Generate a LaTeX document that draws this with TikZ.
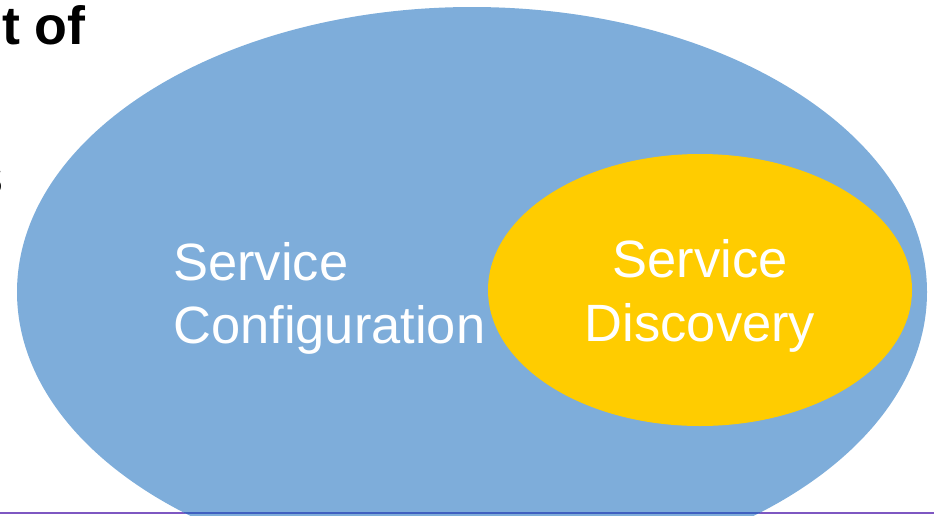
\documentclass[tikz,border=0pt]{standalone}
\usepackage{fontspec}
\setmainfont{Liberation Sans}
\usepackage{xcolor}
\usetikzlibrary{math}

\definecolor{configblue}{HTML}{7EADDA}
\definecolor{discoveryyellow}{HTML}{FFCC00}
\definecolor{rulepurple}{HTML}{7E57C2}
\definecolor{ruleblue}{HTML}{4060C0}

\tikzset{
  bigtext/.style={font=\fontsize{39.5}{47}\selectfont},
  settext/.style={bigtext, text=white, inner sep=0pt},
}

\begin{document}
\begin{tikzpicture}

\tikzmath{
\scale = 0.02646;
}

\useasboundingbox (0*\scale,0*\scale) rectangle (934*\scale,-515*\scale);
\clip (0*\scale,0*\scale) rectangle (934*\scale,-515*\scale);

% cut-off heading and body text at the left
\node[font=\fontsize{40.5}{47}\selectfont\bfseries, anchor=base east, inner sep=0pt] (head) at (86*\scale,-44*\scale) {t of};
\node[font=\fontsize{40.5}{47}\selectfont, anchor=base east, inner sep=0pt] (bodytext) at (4*\scale,-194*\scale) {s};

% bottom rule
\draw[rulepurple, line width=2.2*\scale cm] (0*\scale,-513*\scale) -- (934*\scale,-513*\scale);

% the two sets
\fill[configblue] (472*\scale,-292*\scale) ellipse (455*\scale cm and 285*\scale cm);
\fill[discoveryyellow] (700*\scale,-290*\scale) ellipse (212*\scale cm and 136*\scale cm);

% rule where it runs under the big set
\begin{scope}
\clip (472*\scale,-292*\scale) ellipse (455*\scale cm and 285*\scale cm);
\draw[ruleblue, line width=2.2*\scale cm] (0*\scale,-513*\scale) -- (934*\scale,-513*\scale);
\end{scope}

\node[settext, anchor=base west] (config) at (173*\scale,-280*\scale) {Service};
\node[settext, anchor=base west] (config2) at (173*\scale,-343*\scale) {Configuration};

\node[settext, anchor=base] (discovery) at (700*\scale,-277*\scale) {Service};
\node[settext, anchor=base] (discovery2) at (700*\scale,-341*\scale) {Discovery};

\end{tikzpicture}
\end{document}
